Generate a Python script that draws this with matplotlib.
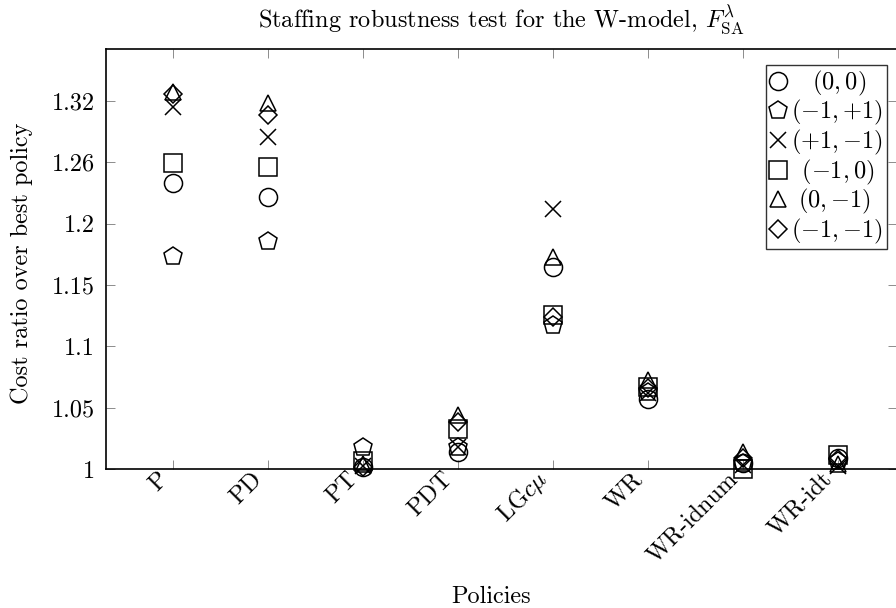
import matplotlib
matplotlib.use("Agg")
import matplotlib.pyplot as plt
import matplotlib.transforms as mtransforms
import numpy as np

plt.rcParams['font.family'] = ['cmr10', 'DejaVu Serif']
plt.rcParams['mathtext.fontset'] = 'cm'
plt.rcParams['axes.formatter.use_mathtext'] = True
plt.rcParams['axes.unicode_minus'] = False

FS = 17.5

# policies on the x axis
policies = ['P', 'PD', 'PT', 'PDT', 'LG$c\\mu$', 'WR', 'WR-idnum', 'WR-idt']

# cost ratio over best policy for each staffing perturbation
r_0_0 = [1.2333, 1.2219, 1.0020, 1.0143, 1.1649, 1.0570, 1.0049, 1.0090]
r_m1_p1 = [1.1736, 1.1861, 1.0184, 1.0180, 1.1174, 1.0632, 1.0050, 1.0070]
r_p1_m1 = [1.2951, 1.2707, 1.0030, 1.0183, 1.2119, 1.0618, 1.0035, 1.0030]
r_m1_0 = [1.2495, 1.2463, 1.0070, 1.0326, 1.1257, 1.0667, 1.0002, 1.0120]
r_0_m1 = [1.3073, 1.2979, 1.0040, 1.0442, 1.1730, 1.0727, 1.0141, 1.0040]
r_m1_m1 = [1.3057, 1.2884, 1.0015, 1.0388, 1.1242, 1.0659, 1.0090, 1.0080]

ytick_vals = [1.0, 1.05, 1.1, 1.15, 1.2, 1.25, 1.3]
ytick_labels = ['1', '1.05', '1.1', '1.15', '1.2', '1.26', '1.32']

series = [
    (r_0_0, 'o', 13.0, r'$\quad(0,0)$'),
    (r_m1_p1, 'p', 13.6, r'$({-}1,{+}1)$'),
    (r_p1_m1, 'x', 11.5, r'$({+}1,{-}1)$'),
    (r_m1_0, 's', 13.0, r'$\enspace({-}1,0)$'),
    (r_0_m1, '^', 11.5, r'$\ (0,{-}1)$'),
    (r_m1_m1, 'D', 8.8, r'$({-}1,{-}1)$'),
]

W, H = 896, 608
fig = plt.figure(figsize=(W / 100, H / 100), dpi=100)
ax = fig.add_axes([106 / W, 1 - 469.3 / H, (897 - 106) / W, (469.3 - 48.5) / H])

x = np.arange(len(policies))
for vals, m, ms, lab in series:
    ax.plot(x, vals, linestyle='none', marker=m, markersize=ms,
            markerfacecolor='none', markeredgecolor='black',
            markeredgewidth=1.1, color='black', label=lab,
            clip_on=False, zorder=5)

ax.set_xlim(-0.702, 7.624)
ax.set_ylim(1.0, 1.3425)
ax.set_xticks(x)
ax.set_xticklabels(policies, rotation=45, ha='right', va='center',
                   rotation_mode='anchor', fontsize=FS)
ax.set_yticks(ytick_vals)
ax.set_yticklabels(ytick_labels, fontsize=FS)

ax.tick_params(axis='both', which='major', direction='in', length=6.5,
               width=0.7, color='0.55', top=True, right=True)
ax.tick_params(axis='y', pad=8)
ax.tick_params(axis='x', pad=4.5)
offset = mtransforms.ScaledTranslation(-0.085, 0, fig.dpi_scale_trans)
for lbl in ax.get_xticklabels():
    lbl.set_transform(lbl.get_transform() + offset)

for sp in ax.spines.values():
    sp.set_linewidth(1.2)
    sp.set_color('black')

ax.set_title(r'Staffing robustness test for the W-model, $F^{\lambda}_{\mathrm{SA}}$',
             fontsize=FS, pad=14.5)

fig.text(22 / W, 1 - 263 / H, 'Cost ratio over best policy', rotation=90,
         ha='center', va='center', fontsize=FS)
fig.text(491 / W, 1 - 597 / H, 'Policies', ha='center', va='center',
         fontsize=FS)

leg = ax.legend(loc='upper right', bbox_to_anchor=(886.7 / W, 1 - 65 / H),
                bbox_transform=fig.transFigure, borderaxespad=0,
                frameon=True, fancybox=False, edgecolor='black',
                fontsize=FS, handlelength=0.7, handletextpad=0.2,
                borderpad=0.15, labelspacing=0.02, numpoints=1)
leg.get_frame().set_linewidth(1.0)
leg.set_zorder(10)

fig.savefig('out.png', dpi=100)
